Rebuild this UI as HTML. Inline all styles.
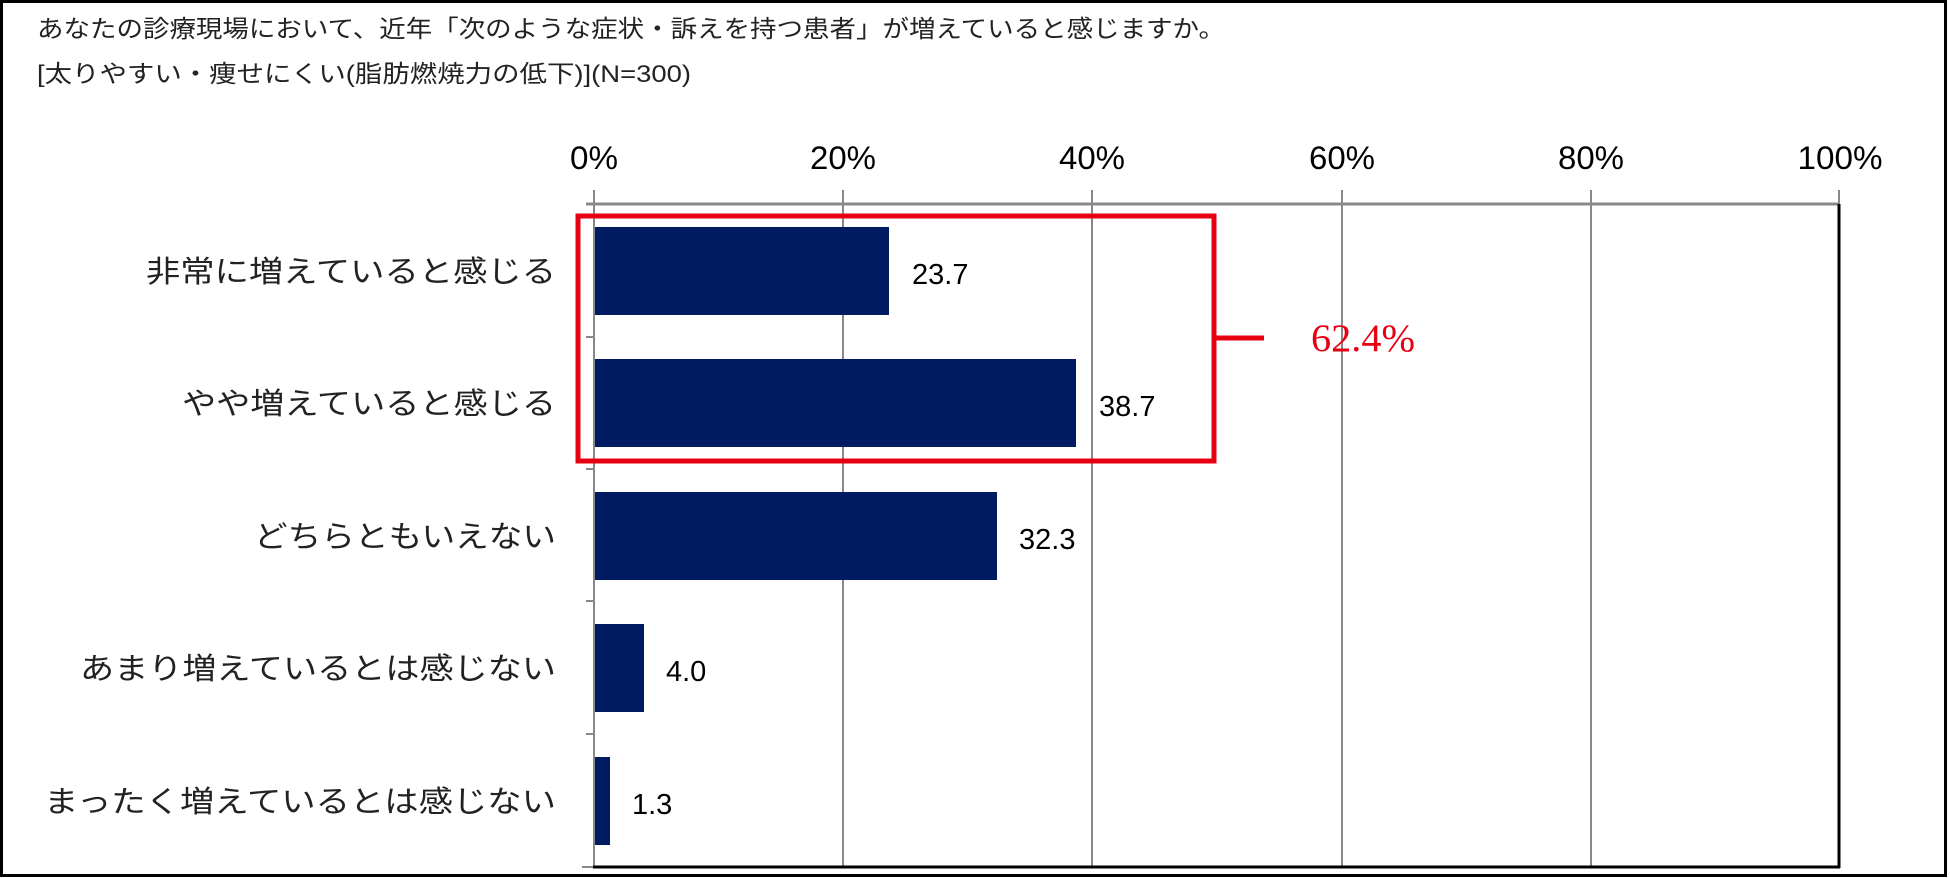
<!DOCTYPE html>
<html><head><meta charset="utf-8"><style>
html,body{margin:0;padding:0;background:#fff;}
svg{display:block;}
text{font-family:"Liberation Sans","Noto Sans CJK JP",sans-serif;}
</style></head><body>
<svg width="1950" height="878" viewBox="0 0 1950 878" xmlns="http://www.w3.org/2000/svg">
<rect x="1.5" y="1.5" width="1944" height="874" fill="#fff" stroke="#000" stroke-width="3"/>
<text x="37" y="37" font-size="24" fill="#222" textLength="1188" lengthAdjust="spacingAndGlyphs">あなたの診療現場において、近年「次のような症状・訴えを持つ患者」が増えていると感じますか。</text>
<text x="37" y="82" font-size="24" fill="#222" textLength="654" lengthAdjust="spacingAndGlyphs">[太りやすい・痩せにくい(脂肪燃焼力の低下)](N=300)</text>
<g font-size="32" fill="#000" text-anchor="middle">
<text x="594" y="169" textLength="48" lengthAdjust="spacingAndGlyphs">0%</text>
<text x="843" y="169" textLength="66" lengthAdjust="spacingAndGlyphs">20%</text>
<text x="1092" y="169" textLength="66" lengthAdjust="spacingAndGlyphs">40%</text>
<text x="1342" y="169" textLength="66" lengthAdjust="spacingAndGlyphs">60%</text>
<text x="1591" y="169" textLength="66" lengthAdjust="spacingAndGlyphs">80%</text>
<text x="1840" y="169" textLength="85" lengthAdjust="spacingAndGlyphs">100%</text>
</g>
<g stroke="#888" stroke-width="2">
<line x1="843" y1="190" x2="843" y2="867"/>
<line x1="1092" y1="190" x2="1092" y2="867"/>
<line x1="1342" y1="190" x2="1342" y2="867"/>
<line x1="1591" y1="190" x2="1591" y2="867"/>
<line x1="1839" y1="190" x2="1839" y2="205"/>
<line x1="594" y1="190" x2="594" y2="867"/>
<line x1="586" y1="204" x2="1840" y2="204" stroke-width="3"/>
<line x1="586" y1="337" x2="594" y2="337"/>
<line x1="586" y1="469" x2="594" y2="469"/>
<line x1="586" y1="601" x2="594" y2="601"/>
<line x1="586" y1="734" x2="594" y2="734"/>
<line x1="582" y1="867" x2="594" y2="867"/>
</g>
<line x1="1839" y1="204" x2="1839" y2="868" stroke="#000" stroke-width="3"/>
<line x1="593" y1="867" x2="1840" y2="867" stroke="#000" stroke-width="3"/>
<g fill="#011b63">
<rect x="595" y="227" width="294" height="88"/>
<rect x="595" y="359" width="481" height="88"/>
<rect x="595" y="492" width="402" height="88"/>
<rect x="595" y="624" width="49" height="88"/>
<rect x="595" y="757" width="15" height="88"/>
</g>
<g font-size="29" fill="#000">
<text x="912" y="284">23.7</text>
<text x="1099" y="416">38.7</text>
<text x="1019" y="549">32.3</text>
<text x="666" y="681">4.0</text>
<text x="632" y="814">1.3</text>
</g>
<g font-size="30" fill="#222" text-anchor="end">
<text x="556" y="282" textLength="410" lengthAdjust="spacingAndGlyphs">非常に増えていると感じる</text>
<text x="556" y="414" textLength="374" lengthAdjust="spacingAndGlyphs">やや増えていると感じる</text>
<text x="556" y="547" textLength="302" lengthAdjust="spacingAndGlyphs">どちらともいえない</text>
<text x="556" y="679" textLength="476" lengthAdjust="spacingAndGlyphs">あまり増えているとは感じない</text>
<text x="556" y="812" textLength="512" lengthAdjust="spacingAndGlyphs">まったく増えているとは感じない</text>
</g>
<rect x="578" y="216" width="636" height="245" fill="none" stroke="#e60012" stroke-width="5"/>
<line x1="1214" y1="338" x2="1264" y2="338" stroke="#e60012" stroke-width="5"/>
<text x="1311" y="351" font-size="39" fill="#e60012" style="font-family:'Liberation Serif',serif" textLength="104" lengthAdjust="spacingAndGlyphs">62.4%</text>
</svg>
</body></html>
